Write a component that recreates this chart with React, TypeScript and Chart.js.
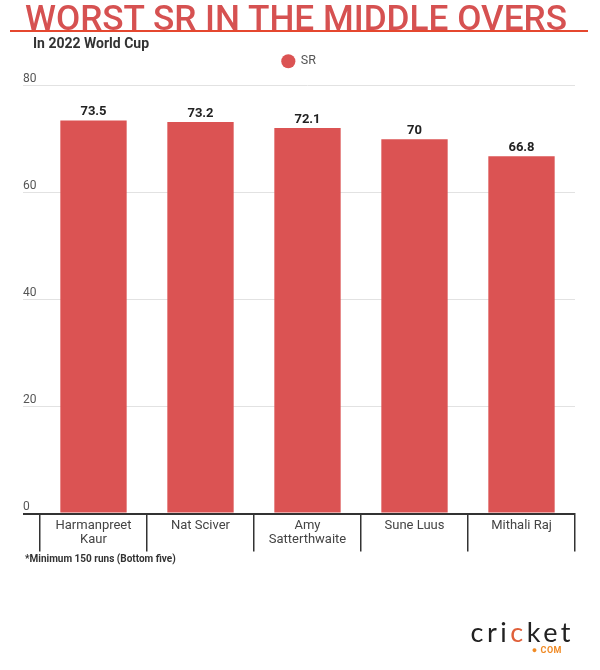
import React, { useEffect, useLayoutEffect, useRef } from 'react';
import { Chart, registerables } from 'chart.js';

Chart.register(...registerables);

const titleText = 'WORST SR IN THE MIDDLE OVERS';
const subtitleText = 'In 2022 World Cup';
const footnoteText = '*Minimum 150 runs (Bottom five)';
const seriesName = 'SR';
const categories: (string | string[])[] = [
  ['Harmanpreet', 'Kaur'],
  'Nat Sciver',
  ['Amy', 'Satterthwaite'],
  'Sune Luus',
  'Mithali Raj',
];
const srValues = [73.5, 73.2, 72.1, 70, 66.8];
const yTickValues = [0, 20, 40, 60, 80];

const BAR_COLOR = '#db5353';
const LEGEND_TOP = 45;
const CHART_TOP = 85.7;

const valueLabels = {
  id: 'valueLabels',
  afterDatasetsDraw(chart: any) {
    const ctx = chart.ctx;
    chart.data.datasets.forEach((ds: any, di: number) => {
      const meta = chart.getDatasetMeta(di);
      meta.data.forEach((bar: any, i: number) => {
        ctx.save();
        ctx.font = 'bold 13px Roboto';
        ctx.fillStyle = '#222';
        ctx.textAlign = 'center';
        ctx.textBaseline = 'alphabetic';
        ctx.fillText(String(ds.data[i]), bar.x, bar.y - 5);
        ctx.restore();
      });
    });
  },
};

const legendSpacing = {
  id: 'legendSpacing',
  beforeLayout(chart: any) {
    const legend = chart.legend;
    if (legend && !legend._spacingPatched) {
      const orig = legend.fit;
      legend.fit = function () {
        orig.call(this);
        this.height = CHART_TOP - LEGEND_TOP;
      };
      legend._spacingPatched = true;
    }
  },
};

export default function App() {
  const canvasRef = useRef<HTMLCanvasElement | null>(null);
  const titleRef = useRef<HTMLSpanElement | null>(null);

  useLayoutEffect(() => {
    const el = titleRef.current;
    if (el) {
      el.style.transform = 'none';
      const w = el.getBoundingClientRect().width;
      if (w > 0) el.style.transform = `scaleX(${542 / w})`;
    }
  }, []);

  useEffect(() => {
    if (!canvasRef.current) return;
    const chart = new Chart(canvasRef.current, {
      type: 'bar',
      data: {
        labels: categories,
        datasets: [
          {
            label: seriesName,
            data: srValues,
            backgroundColor: BAR_COLOR,
            borderWidth: 0,
            categoryPercentage: 1,
            barPercentage: 0.62,
          },
        ],
      },
      options: {
        responsive: false,
        animation: false,
        layout: { padding: { top: LEGEND_TOP, left: 23, right: 25, bottom: 116.5 } },
        plugins: {
          legend: {
            position: 'top',
            labels: {
              usePointStyle: true,
              pointStyle: 'circle',
              boxHeight: 10,
              padding: 10,
              color: '#555',
              font: { family: 'Roboto', size: 12.5 },
            },
          },
          tooltip: { enabled: false },
        },
        scales: {
          x: {
            offset: true,
            grid: {
              offset: true,
              drawOnChartArea: false,
              drawTicks: true,
              tickLength: 38,
              color: '#333',
              lineWidth: 1.5,
            },
            border: { display: true, color: '#333', width: 2 },
            ticks: {
              padding: -33,
              maxRotation: 0,
              autoSkip: false,
              color: '#444',
              font: { family: 'Roboto', size: 13, lineHeight: 1.1 },
            },
            afterFit: (s: any) => {
              s.height = 40;
            },
          },
          y: {
            min: 0,
            max: 80,
            afterBuildTicks: (s: any) => {
              s.ticks = yTickValues.map((v) => ({ value: v }));
            },
            grid: {
              color: (c: any) => (c.tick && c.tick.value === 0 ? '#333' : '#e2e2e2'),
              lineWidth: (c: any) => (c.tick && c.tick.value === 0 ? 2 : 1),
              tickLength: 17,
            },
            border: { display: false },
            ticks: {
              crossAlign: 'far',
              labelOffset: -7,
              padding: 0,
              color: '#555',
              font: { family: 'Roboto', size: 12 },
            },
            afterFit: (s: any) => {
              s.width = 17;
            },
          },
        },
      } as any,
      plugins: [valueLabels, legendSpacing],
    });
    return () => chart.destroy();
  }, []);

  return (
    <div
      style={{
        position: 'absolute',
        left: 0,
        top: 0,
        width: 600,
        height: 670,
        background: '#fff',
        overflow: 'hidden',
        fontFamily: 'Roboto, sans-serif',
      }}
    >
      <canvas ref={canvasRef} width={600} height={670} style={{ position: 'absolute', left: 0, top: 0 }} />
      <div style={{ position: 'absolute', left: 25, top: 0.5, lineHeight: 1, whiteSpace: 'nowrap' }}>
        <span
          ref={titleRef}
          style={{
            display: 'inline-block',
            fontSize: 34.5,
            fontWeight: 500,
            color: '#d65151',
            transformOrigin: 'left top',
            lineHeight: 1,
          }}
        >
          {titleText}
        </span>
      </div>
      <div style={{ position: 'absolute', left: 10, top: 30, width: 578, height: 2, background: '#e5472f' }} />
      <div
        style={{
          position: 'absolute',
          left: 33,
          top: 36,
          fontSize: 14,
          fontWeight: 700,
          color: '#333',
          lineHeight: 1,
          whiteSpace: 'nowrap',
        }}
      >
        {subtitleText}
      </div>
      <div
        style={{
          position: 'absolute',
          left: 25,
          top: 553.5,
          fontSize: 10,
          fontWeight: 700,
          color: '#333',
          lineHeight: 1,
          whiteSpace: 'nowrap',
        }}
      >
        {footnoteText}
      </div>
      <div
        style={{
          position: 'absolute',
          right: 26,
          top: 618,
          fontFamily: 'Lato, sans-serif',
          fontSize: 27,
          fontWeight: 400,
          color: '#222',
          lineHeight: 1,
          letterSpacing: 3.5,
          whiteSpace: 'nowrap',
        }}
      >
        cri<span style={{ color: '#e0603a' }}>c</span>ket
      </div>
      <div
        style={{
          position: 'absolute',
          right: 38,
          top: 646,
          fontSize: 9,
          fontWeight: 700,
          color: '#f08a24',
          lineHeight: 1,
          whiteSpace: 'nowrap',
          letterSpacing: 0.5,
        }}
      >
        ● COM
      </div>
    </div>
  );
}
